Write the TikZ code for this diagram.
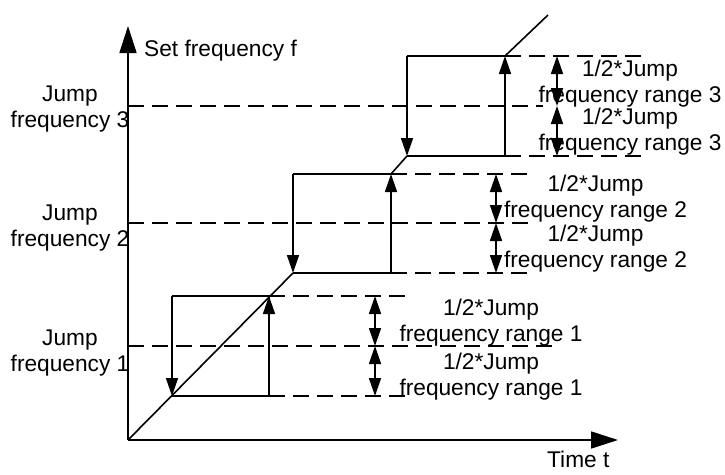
\documentclass[tikz,border=0pt]{standalone}
\usepackage{fontspec}
\setmainfont{Liberation Sans}
\usetikzlibrary{arrows.meta}
\begin{document}
\begin{tikzpicture}[x=1pt,y=-1pt,
  every node/.style={font=\fontsize{22.7}{26}\selectfont, inner sep=0pt},
  solidline/.style={line width=1.6pt},
  dashline/.style={line width=1.6pt, dash pattern=on 16pt off 8pt},
  axisarrow/.style={line width=1.6pt, -{Triangle[width=17pt,length=27pt]}},
  flowarrow/.style={line width=1.6pt, -{Triangle[width=12pt,length=18pt]}},
  dimarrow/.style={line width=1.6pt, {Triangle[width=12pt,length=18pt]}-{Triangle[width=12pt,length=18pt]}},
  lbl/.style={align=center}]
\useasboundingbox (0,0) rectangle (725,474);
% axes
\coordinate (O) at (128,440);
\coordinate (ytip) at (128,26);
\coordinate (xtip) at (618,440);
% level 1
\coordinate (A1) at (172,396); \coordinate (B1) at (269,396);
\coordinate (C1) at (172,296); \coordinate (D1) at (269,296);
\coordinate (E1) at (409,296); \coordinate (F1) at (410,396);
\coordinate (J1L) at (128,346); \coordinate (J1R) at (553,346);
\coordinate (M1t) at (375,296); \coordinate (M1m) at (375,346); \coordinate (M1b) at (375,396);
% level 2
\coordinate (A2) at (293,273); \coordinate (B2) at (391,273);
\coordinate (C2) at (293,174); \coordinate (D2) at (391,174);
\coordinate (E2) at (530,174); \coordinate (F2) at (528,273);
\coordinate (J2L) at (128,223); \coordinate (J2R) at (533,223);
\coordinate (M2t) at (496,174); \coordinate (M2m) at (496,223); \coordinate (M2b) at (496,273);
% level 3
\coordinate (A3) at (407,156); \coordinate (B3) at (505,156);
\coordinate (C3) at (407,56); \coordinate (D3) at (505,56);
\coordinate (E3) at (645,56); \coordinate (F3) at (643,156);
\coordinate (J3L) at (128,106); \coordinate (J3R) at (543,106);
\coordinate (M3t) at (557,56); \coordinate (M3m) at (557,106); \coordinate (M3b) at (557,156);
\coordinate (END) at (548,15);

% dashed guide lines
\draw[dashline] (J1L) -- (J1R);
\draw[dashline] (J2L) -- (J2R);
\draw[dashline] (J3L) -- (J3R);
\draw[dashline] (D1) -- (E1);
\draw[dashline] (B1) -- (F1);
\draw[dashline] (D2) -- (E2);
\draw[dashline] (B2) -- (F2);
\draw[dashline] (D3) -- (E3);
\draw[dashline] (B3) -- (F3);

% axes
\draw[axisarrow] (O) -- (ytip);
\draw[axisarrow] (O) -- (xtip);

% ramps
\draw[solidline] (O) -- (A2);
\draw[solidline] (D2) -- (A3);
\draw[solidline] (D3) -- (END);

% plateaus
\draw[solidline] (A1) -- (B1);
\draw[solidline] (C1) -- (D1);
\draw[solidline] (A2) -- (B2);
\draw[solidline] (C2) -- (D2);
\draw[solidline] (A3) -- (B3);
\draw[solidline] (C3) -- (D3);

% jumps
\draw[flowarrow] (C1) -- (A1);
\draw[flowarrow] (B1) -- (D1);
\draw[flowarrow] (C2) -- (A2);
\draw[flowarrow] (B2) -- (D2);
\draw[flowarrow] (C3) -- (A3);
\draw[flowarrow] (B3) -- (D3);

% half-range dimension arrows
\draw[dimarrow] (M1t) -- (M1m);
\draw[dimarrow] (M1m) -- (M1b);
\draw[dimarrow] (M2t) -- (M2m);
\draw[dimarrow] (M2m) -- (M2b);
\draw[dimarrow] (M3t) -- (M3m);
\draw[dimarrow] (M3m) -- (M3b);

% texts
\node[anchor=base west] (ylab) at (144,56.5) {Set frequency f};
\node[anchor=base west] (xlab) at (547,467.5) {Time t};
\node[lbl] (jf3) at (70,109.5) {Jump\\frequency 3};
\node[lbl] (jf2) at (70,228) {Jump\\frequency 2};
\node[lbl] (jf1) at (70,353) {Jump\\frequency 1};
\node[lbl] (r1u) at (491,323) {1/2*Jump\\frequency range 1};
\node[lbl] (r1l) at (491,376.5) {1/2*Jump\\frequency range 1};
\node[lbl] (r2u) at (595.5,199) {1/2*Jump\\frequency range 2};
\node[lbl] (r2l) at (595.5,249) {1/2*Jump\\frequency range 2};
\node[lbl] (r3u) at (630,84) {1/2*Jump\\frequency range 3};
\node[lbl] (r3l) at (630,132) {1/2*Jump\\frequency range 3};
\end{tikzpicture}
\end{document}
